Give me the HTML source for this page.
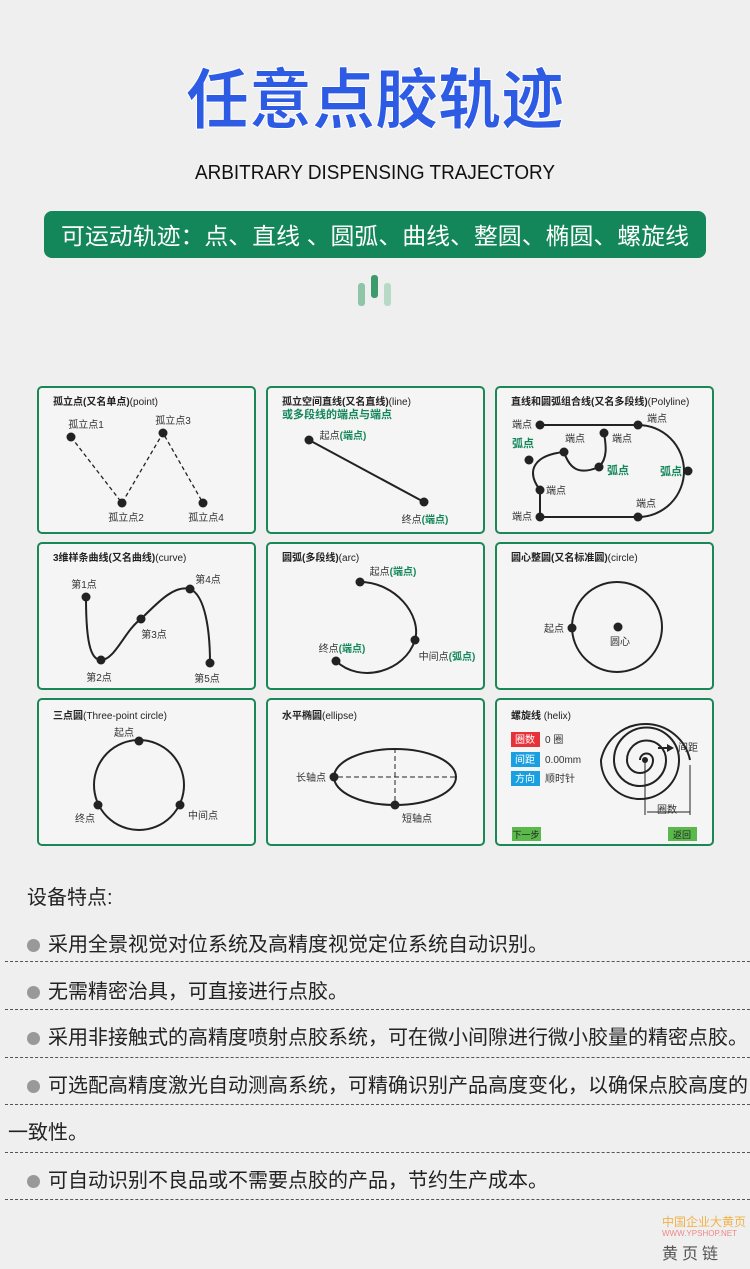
<!DOCTYPE html>
<html><head><meta charset="utf-8"><style>
body{margin:0;background:#efefef;}
#w{position:relative;width:750px;height:1269px;overflow:hidden;background:#efefef;font-family:"Liberation Sans","Noto Sans CJK SC",sans-serif;}
.t{position:absolute;white-space:nowrap;color:#222;font-size:20px;}
.d{position:absolute;left:5px;width:745px;border-top:1px dashed #555;}
.b{display:inline-block;width:13px;height:13px;border-radius:50%;background:#999;margin-right:8px;vertical-align:-1px;}
</style></head><body><div id="w">
<svg width="750" height="880" style="position:absolute;left:0;top:0" font-family="Liberation Sans, Noto Sans CJK SC, sans-serif">
<text x="375" y="123" text-anchor="middle" font-size="66" font-weight="bold" fill="#2d5be3" stroke="#fff" stroke-width="1" textLength="378" lengthAdjust="spacingAndGlyphs">任意点胶轨迹</text>
<text x="375" y="179" text-anchor="middle" font-size="20" fill="#111" textLength="360" lengthAdjust="spacingAndGlyphs">ARBITRARY DISPENSING TRAJECTORY</text>
<rect x="44" y="211" width="662" height="47" rx="8" fill="#13875a"/>
<text x="61" y="244" font-size="23" fill="#fff" textLength="628" lengthAdjust="spacingAndGlyphs">可运动轨迹：点、直线 、圆弧、曲线、整圆、椭圆、螺旋线</text>
<rect x="358" y="283" width="7" height="23" rx="3" fill="#8fc4a8"/>
<rect x="371" y="275" width="7" height="23" rx="3" fill="#3d9a6d"/>
<rect x="384" y="283" width="7" height="23" rx="3" fill="#b7dac6"/>
<g fill="#f5f5f5" stroke="#1b8757" stroke-width="2">
<rect x="38" y="387" width="217" height="146" rx="4"/><rect x="267" y="387" width="217" height="146" rx="4"/><rect x="496" y="387" width="217" height="146" rx="4"/>
<rect x="38" y="543" width="217" height="146" rx="4"/><rect x="267" y="543" width="217" height="146" rx="4"/><rect x="496" y="543" width="217" height="146" rx="4"/>
<rect x="38" y="699" width="217" height="146" rx="4"/><rect x="267" y="699" width="217" height="146" rx="4"/><rect x="496" y="699" width="217" height="146" rx="4"/>
</g>
<g font-size="10" fill="#222">
<text x="53" y="405" font-weight="bold">孤立点(又名单点)<tspan font-weight="normal">(point)</tspan></text>
<text x="282" y="405" font-weight="bold">孤立空间直线(又名直线)<tspan font-weight="normal">(line)</tspan></text>
<text x="282" y="418" font-weight="bold" fill="#13875a" font-size="11">或多段线的端点与端点</text>
<text x="511" y="405" font-weight="bold">直线和圆弧组合线(又名多段线)<tspan font-weight="normal">(Polyline)</tspan></text>
<text x="53" y="561" font-weight="bold">3维样条曲线(又名曲线)<tspan font-weight="normal">(curve)</tspan></text>
<text x="282" y="561" font-weight="bold">圆弧(多段线)<tspan font-weight="normal">(arc)</tspan></text>
<text x="511" y="561" font-weight="bold">圆心整圆(又名标准圆)<tspan font-weight="normal">(circle)</tspan></text>
<text x="53" y="719" font-weight="bold">三点圆<tspan font-weight="normal">(Three-point circle)</tspan></text>
<text x="282" y="719" font-weight="bold">水平椭圆<tspan font-weight="normal">(ellipse)</tspan></text>
<text x="511" y="719" font-weight="bold">螺旋线 <tspan font-weight="normal">(helix)</tspan></text>
</g>
<g fill="none" stroke="#222" stroke-width="2">
<path d="M71,437 L122,503 L163,433 L203,503" stroke-dasharray="4,3" stroke-width="1.3"/>
<path d="M309,440 L424,502"/>
<path d="M540,425 L638,425 A46,46 0 0 1 638,517 L540,517 L540,490 C525,470 535,455 564,452 C570,470 580,475 599,467 C608,458 606,445 604,433"/>
<path d="M86,597 C86,640 90,660 101,660 C115,660 125,630 141,619 C160,600 175,585 190,589 C205,595 210,630 210,663"/>
<path d="M360,582 C395,582 422,615 415,640 C405,672 360,684 336,661"/>
<circle cx="617" cy="627" r="45"/>
<circle cx="139" cy="785" r="45"/>
<ellipse cx="395" cy="777" rx="61" ry="28"/>
<path d="M640,760 A6.5,6.5 0 0 1 653,760 A13,13 0 0 1 627,760 A19.5,19.5 0 0 1 666,760 A26,26 0 0 1 614,760 A32.5,32.5 0 0 1 679,760 A39,39 0 0 1 601,760 A45.5,45.5 0 0 1 690,760"/>
</g>
<g stroke="#222" stroke-width="1" fill="none">
<path d="M330,777 L457,777 M395,748 L395,806" stroke-dasharray="5,3"/>
<path d="M645,760 L645,815 M690,765 L690,815 M647,812 L690,812"/>
<path d="M658,748 L668,748" stroke-width="2"/>
</g>
<path d="M667,744 L674,748 L667,752Z" fill="#222"/>
<g fill="#222">
<circle cx="71" cy="437" r="4.5"/><circle cx="122" cy="503" r="4.5"/><circle cx="163" cy="433" r="4.5"/><circle cx="203" cy="503" r="4.5"/>
<circle cx="309" cy="440" r="4.5"/><circle cx="424" cy="502" r="4.5"/>
<circle cx="540" cy="425" r="4.5"/><circle cx="638" cy="425" r="4.5"/><circle cx="564" cy="452" r="4.5"/><circle cx="604" cy="433" r="4.5"/><circle cx="529" cy="460" r="4.5"/><circle cx="599" cy="467" r="4.5"/><circle cx="688" cy="471" r="4.5"/><circle cx="540" cy="490" r="4.5"/><circle cx="638" cy="517" r="4.5"/><circle cx="540" cy="517" r="4.5"/>
<circle cx="86" cy="597" r="4.5"/><circle cx="101" cy="660" r="4.5"/><circle cx="141" cy="619" r="4.5"/><circle cx="190" cy="589" r="4.5"/><circle cx="210" cy="663" r="4.5"/>
<circle cx="360" cy="582" r="4.5"/><circle cx="415" cy="640" r="4.5"/><circle cx="336" cy="661" r="4.5"/>
<circle cx="572" cy="628" r="4.5"/><circle cx="618" cy="627" r="4.5"/>
<circle cx="139" cy="741" r="4.5"/><circle cx="180" cy="805" r="4.5"/><circle cx="98" cy="805" r="4.5"/>
<circle cx="334" cy="777" r="4.5"/><circle cx="395" cy="805" r="4.5"/>
<circle cx="645" cy="760" r="3"/>
</g>
<g font-size="10" fill="#333" text-anchor="middle">
<text x="86" y="428">孤立点1</text><text x="173" y="424">孤立点3</text><text x="126" y="521">孤立点2</text><text x="206" y="521">孤立点4</text>
<text x="343" y="439">起点<tspan fill="#13875a" font-weight="bold">(端点)</tspan></text>
<text x="425" y="523">终点<tspan fill="#13875a" font-weight="bold">(端点)</tspan></text>
<text x="522" y="428">端点</text><text x="657" y="422">端点</text><text x="575" y="442">端点</text><text x="622" y="442">端点</text>
<text x="556" y="494">端点</text><text x="646" y="507">端点</text><text x="522" y="520">端点</text>
<g fill="#13875a" font-weight="bold" font-size="11"><text x="523" y="447">弧点</text><text x="618" y="474">弧点</text><text x="671" y="475">弧点</text></g>
<text x="84" y="588">第1点</text><text x="208" y="583">第4点</text><text x="154" y="638">第3点</text><text x="99" y="681">第2点</text><text x="207" y="682">第5点</text>
<text x="393" y="575">起点<tspan fill="#13875a" font-weight="bold">(端点)</tspan></text>
<text x="342" y="652">终点<tspan fill="#13875a" font-weight="bold">(端点)</tspan></text>
<text x="447" y="660">中间点<tspan fill="#13875a" font-weight="bold">(弧点)</tspan></text>
<text x="554" y="632">起点</text><text x="620" y="645">圆心</text>
<text x="124" y="736">起点</text><text x="203" y="819">中间点</text><text x="85" y="822">终点</text>
<text x="311" y="781">长轴点</text><text x="417" y="822">短轴点</text>
<text x="688" y="751">间距</text><text x="667" y="813">圈数</text>
</g>
<rect x="511" y="732" width="29" height="15" fill="#e8323a"/><rect x="511" y="752" width="29" height="15" fill="#1aa0e0"/><rect x="511" y="771" width="29" height="15" fill="#1aa0e0"/>
<g font-size="10" fill="#fff" text-anchor="middle"><text x="525" y="743">圈数</text><text x="525" y="763">间距</text><text x="525" y="782">方向</text></g>
<g font-size="10" fill="#333"><text x="545" y="743">0 圈</text><text x="545" y="763">0.00mm</text><text x="545" y="782">顺时针</text></g>
<rect x="512" y="827" width="29" height="14" fill="#5bb84b"/><rect x="668" y="827" width="29" height="14" fill="#5bb84b"/>
<g font-size="9" fill="#222" text-anchor="middle"><text x="526" y="838">下一步</text><text x="682" y="838">返回</text></g>
</svg>
<div class="t" style="left:27px;top:881px">设备特点:</div>
<div class="t" style="left:27px;top:928px"><span class="b"></span>采用全景视觉对位系统及高精度视觉定位系统自动识别。</div>
<div class="d" style="top:961px"></div>
<div class="t" style="left:27px;top:975px"><span class="b"></span>无需精密治具，可直接进行点胶。</div>
<div class="d" style="top:1009px"></div>
<div class="t" style="left:27px;top:1021px"><span class="b"></span>采用非接触式的高精度喷射点胶系统，可在微小间隙进行微小胶量的精密点胶。</div>
<div class="d" style="top:1057px"></div>
<div class="t" style="left:27px;top:1069px"><span class="b"></span>可选配高精度激光自动测高系统，可精确识别产品高度变化，以确保点胶高度的</div>
<div class="d" style="top:1104px"></div>
<div class="t" style="left:8px;top:1116px">一致性。</div>
<div class="d" style="top:1152px"></div>
<div class="t" style="left:27px;top:1164px"><span class="b"></span>可自动识别不良品或不需要点胶的产品，节约生产成本。</div>
<div class="d" style="top:1199px"></div>
<div class="t" style="left:662px;top:1213px;font-size:12px;color:#f1b24a">中国企业大黄页</div>
<div class="t" style="left:662px;top:1229px;font-size:8px;color:#e88">WWW.YPSHOP.NET</div>
<div class="t" style="left:662px;top:1240px;font-size:16px;color:#555;letter-spacing:4px">黄页链</div>
</div></body></html>
